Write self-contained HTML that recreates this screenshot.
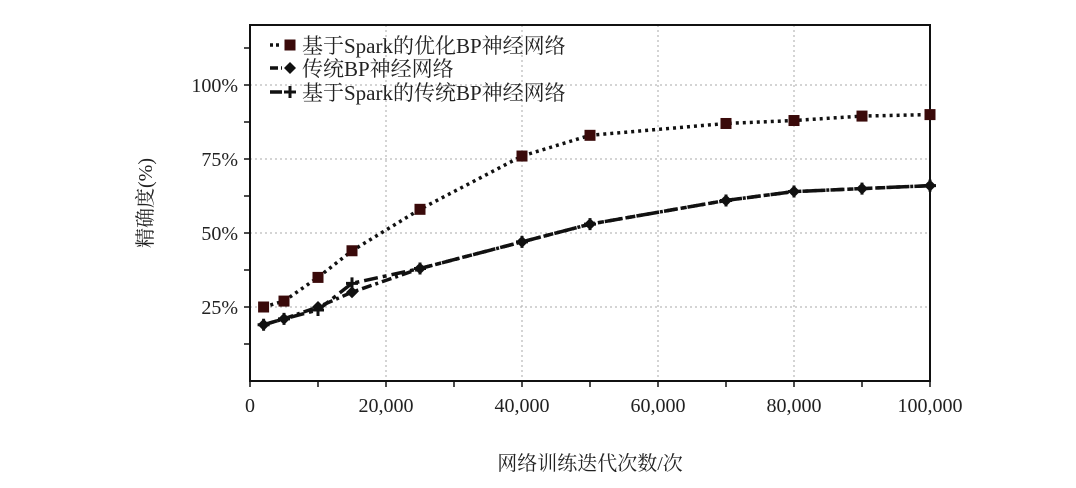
<!DOCTYPE html>
<html><head><meta charset="utf-8"><style>
body{margin:0;background:#fff;width:1076px;height:483px;overflow:hidden}
svg text{font-family:"Liberation Serif","Noto Serif CJK SC",serif;fill:#222}
</style></head><body>
<svg id="c" width="1076" height="483"></svg>
<script>
const xVals=[2000,5000,10000,15000,25000,40000,50000,70000,80000,90000,100000];
const optimized=[25,27,35,44,58,76,83,87,88,89.5,90];
const traditional=[19,21,25,30,38,47,53,61,64,65,66];
const sparkTraditional=[19,21,24,33,38,47,53,61,64,65,66];
const xTicks=[0,20000,40000,60000,80000,100000];
const xTickLabels=["0","20,000","40,000","60,000","80,000","100,000"];
const yTicks=[25,50,75,100];
const yTickLabels=["25%","50%","75%","100%"];
const NS="http://www.w3.org/2000/svg";
const svg=document.getElementById('c');
const L=250,R=930,T=25,B=381;
const xs=v=>L+(v/100000)*(R-L);
const ys=v=>B-v*(B-85)/100;
function mk(tag,at,parent){const e=document.createElementNS(NS,tag);for(const k in at)e.setAttribute(k,at[k]);(parent||svg).appendChild(e);return e;}
// grid
xTicks.slice(1,-1).forEach(t=>{const g=mk('line',{x1:xs(t),x2:xs(t),y1:T,y2:B,stroke:'#aaa','stroke-dasharray':'2,3'});

});
yTicks.forEach(t=>{const g=mk('line',{x1:L,x2:R,y1:ys(t),y2:ys(t),stroke:'#aaa','stroke-dasharray':'2,3'});

});
// frame
const fr=mk('rect',{x:L,y:T,width:R-L,height:B-T,fill:'none',stroke:'#111','stroke-width':2});


// ticks
for(let v=0;v<=100000;v+=10000){const t=mk('line',{x1:xs(v),x2:xs(v),y1:B,y2:B+6,stroke:'#111','stroke-width':1.5});

}
for(let v=12.5;v<=112.5;v+=12.5){const t=mk('line',{x1:L-6,x2:L,y1:ys(v),y2:ys(v),stroke:'#111','stroke-width':1.5});

}
xTicks.forEach((t,i)=>{const e=mk('text',{x:xs(t),y:412,'text-anchor':'middle','font-size':20});e.textContent=xTickLabels[i];

});
yTicks.forEach((t,i)=>{const e=mk('text',{x:238,y:ys(t)+7,'text-anchor':'end','font-size':20});e.textContent=yTickLabels[i];

});
const xt=mk('text',{x:590,y:470,'text-anchor':'middle','font-size':20});xt.textContent='网络训练迭代次数/次';


const yt=mk('text',{x:0,y:0,'text-anchor':'middle','font-size':20,transform:'translate(152,203) rotate(-90)'});yt.textContent='精确度(%)';


function line(vals,dash,name){const p=mk('polyline',{points:xVals.map((x,i)=>xs(x)+','+ys(vals[i])).join(' '),fill:'none',stroke:'#111','stroke-width':3.5,'stroke-dasharray':dash});

}
line(traditional,'10,4,3,4','line-traditional-bp');
line(sparkTraditional,'14,5,4,5','line-spark-traditional-bp');
line(optimized,'3,4','line-spark-optimized-bp');
function square(x,y,g){return mk('rect',{x:x-5.5,y:y-5.5,width:11,height:11,fill:'#3a0a0a'},g);}
function diamond(x,y,g){return mk('path',{d:`M${x} ${y-6}L${x+6} ${y}L${x} ${y+6}L${x-6} ${y}Z`,fill:'#111'},g);}
function plus(x,y,g){return mk('path',{d:`M${x-6} ${y}H${x+6}M${x} ${y-6}V${y+6}`,stroke:'#111','stroke-width':3},g);}
xVals.forEach((x,i)=>{const m=diamond(xs(x),ys(traditional[i]));

});
xVals.forEach((x,i)=>{const m=plus(xs(x),ys(sparkTraditional[i]));

});
xVals.forEach((x,i)=>{const m=square(xs(x),ys(optimized[i]));

});
// legend
const legend=[['基于Spark的优化BP神经网络',square,'3,3',45],['传统BP神经网络',diamond,'8,3',68],['基于Spark的传统BP神经网络',plus,'12,3',92]];
legend.forEach(([lab,fn,d,y])=>{const g=mk('g',{});


mk('line',{x1:270,x2:282,y1:y,y2:y,stroke:'#111','stroke-width':3.5,'stroke-dasharray':d},g);
fn(290,y,g);
const t=mk('text',{x:302,y:y+8,'font-size':21},g);t.textContent=lab;});
</script>
</body></html>
